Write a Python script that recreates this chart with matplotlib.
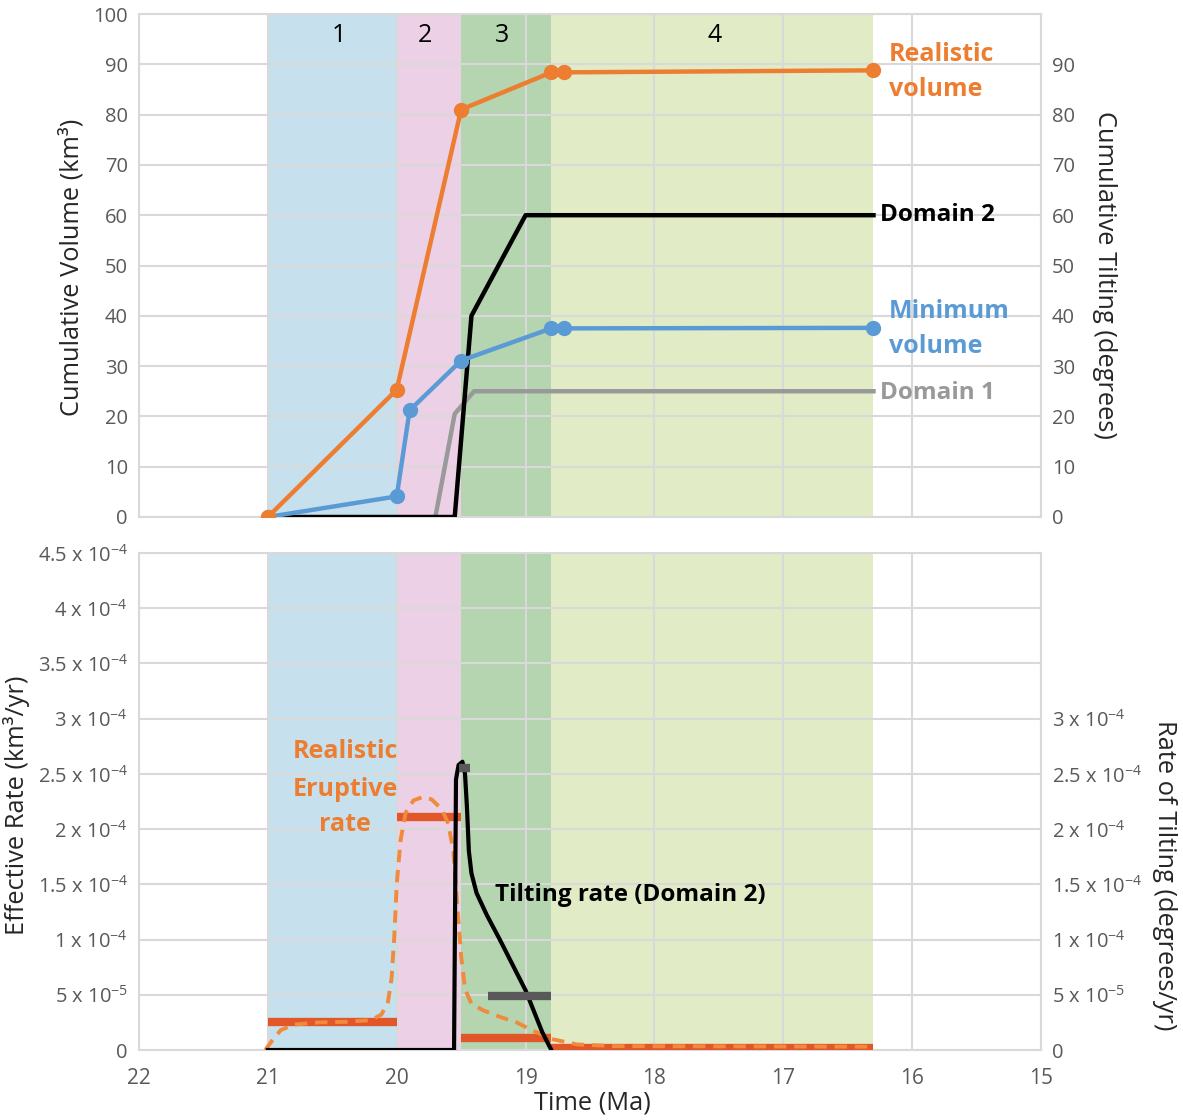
import matplotlib
matplotlib.use('Agg')
import matplotlib.pyplot as plt

plt.rcParams['font.family'] = ['Open Sans', 'DejaVu Sans']
plt.rcParams['mathtext.fontset'] = 'custom'
plt.rcParams['mathtext.rm'] = 'Open Sans'
plt.rcParams['mathtext.it'] = 'Open Sans:italic'
plt.rcParams['mathtext.bf'] = 'Open Sans:bold'

# ---------------- data ----------------
band_edges = [21.0, 20.0, 19.5, 18.8, 16.3]
band_labels = ['1', '2', '3', '4']
band_label_x = [20.45, 19.78, 19.18, 17.53]
band_colors = ['#C6E1ED', '#ECD0E5', '#B5D4B0', '#E1EBC6']

real_t = [21.0, 20.0, 19.5, 18.8, 18.7, 16.3]
real_v = [0, 25.3, 81.0, 88.4, 88.4, 88.8]
min_t = [21.0, 20.0, 19.9, 19.5, 18.8, 18.7, 16.3]
min_v = [0, 4.1, 21.2, 31.1, 37.5, 37.5, 37.6]
dom2_t = [21.0, 19.55, 19.42, 19.0, 16.3]
dom2_v = [0, 0, 40, 60, 60]
dom1_t = [19.7, 19.55, 19.4, 16.3]
dom1_v = [0, 20.5, 25, 25]

erupt_bar_start = [21.0, 20.0, 19.5, 18.8]
erupt_bar_end = [20.0, 19.5, 18.8, 16.3]
erupt_bar_rate = [2.55e-5, 2.11e-4, 1.1e-5, 2e-6]

tilt_bar_start = [19.52, 19.29]
tilt_bar_end = [19.43, 18.8]
tilt_bar_rate = [2.55e-4, 4.9e-5]

tilt_t = [21.0, 19.555, 19.54, 19.52, 19.49, 19.47, 19.455, 19.44, 19.42,
          19.38, 19.3, 19.2, 19.0, 18.87, 18.8]
tilt_r = [0, 0, 2.45e-4, 2.58e-4, 2.61e-4, 2.5e-4, 2.2e-4, 1.8e-4, 1.6e-4,
          1.42e-4, 1.22e-4, 1.0e-4, 0.54e-4, 0.16e-4, 0]

smooth_t = [21.02, 20.97, 20.9, 20.8, 20.6, 20.4, 20.2, 20.12, 20.07, 20.04,
            20.02, 20.0, 19.97, 19.93, 19.87, 19.8, 19.73, 19.65, 19.6, 19.56,
            19.53, 19.5, 19.47, 19.42, 19.33, 19.2, 19.07, 18.95, 18.8, 18.6,
            18.3, 16.3]
smooth_r = [0.0, 0.8e-5, 1.8e-5, 2.3e-5, 2.5e-5, 2.55e-5, 2.7e-5, 3.2e-5, 4.2e-5, 6.5e-5,
            1.0e-4, 1.5e-4, 1.9e-4, 2.15e-4, 2.26e-4, 2.29e-4, 2.27e-4, 2.18e-4, 2.05e-4, 1.8e-4,
            1.3e-4, 0.85e-4, 0.55e-4, 0.42e-4, 0.36e-4, 0.3e-4, 0.25e-4, 0.18e-4, 0.1e-4, 0.5e-5,
            0.35e-5, 0.3e-5]

x_ticks = [22, 21, 20, 19, 18, 17, 16, 15]
top_left_ticks = list(range(0, 101, 10))
top_right_ticks = list(range(0, 91, 10))
bot_left_ticks = [0, 5e-5, 1e-4, 1.5e-4, 2e-4, 2.5e-4, 3e-4, 3.5e-4, 4e-4, 4.5e-4]
bot_left_labels = ['0', '5 x 10$^{-5}$', '1 x 10$^{-4}$', '1.5 x 10$^{-4}$', '2 x 10$^{-4}$',
                   '2.5 x 10$^{-4}$', '3 x 10$^{-4}$', '3.5 x 10$^{-4}$', '4 x 10$^{-4}$',
                   '4.5 x 10$^{-4}$']
bot_right_ticks = bot_left_ticks[:7]
bot_right_labels = bot_left_labels[:7]

# ---------------- style ----------------
GRID = '#D9D9D9'
TICKC = '#595959'
ORANGE = '#ED7D31'
BLUE = '#5B9BD5'
GRAY1 = '#999999'
BARRED = '#E2572A'
DASHOR = '#F08A3C'
TS = 14.5
LAB = 18.3
ANN = 18

W, H = 1183, 1120
fig = plt.figure(figsize=(W / 100, H / 100), dpi=100)

def frac(l, t, r, b):
    return [l / W, 1 - b / H, (r - l) / W, (b - t) / H]

ax1 = fig.add_axes(frac(139, 14, 1041, 517))
ax2 = fig.add_axes(frac(139, 553, 1041, 1050))

def style(ax):
    ax.set_xlim(22, 15)
    ax.set_xticks(x_ticks)
    ax.grid(True, color=GRID, lw=1.5, zorder=0.5)
    ax.set_axisbelow(False)
    for s in ax.spines.values():
        s.set_color(GRID)
        s.set_linewidth(1.5)
    ax.tick_params(length=0, colors=TICKC, labelsize=TS, pad=8)
    ax.tick_params(axis='x', pad=13, labelsize=15)

for ax in (ax1, ax2):
    style(ax)
    for i in range(len(band_labels)):
        ax.axvspan(band_edges[i], band_edges[i + 1], color=band_colors[i], lw=0, zorder=0)

# ---- top ----
ax1.set_ylim(0, 100)
ax1.set_yticks(top_left_ticks)
ax1.tick_params(axis='x', labelbottom=False)
for i, lab in enumerate(band_labels):
    ax1.text(band_label_x[i], 95.7, lab, ha='center', va='center', fontsize=18, color='black')

ax1r = ax1.twinx()
ax1r.set_ylim(0, 100)
ax1r.set_yticks(top_right_ticks)
ax1r.tick_params(length=0, colors=TICKC, labelsize=TS, pad=8)
for s in ax1r.spines.values():
    s.set_visible(False)

ax1.plot(dom1_t, dom1_v, color=GRAY1, lw=3.2, zorder=3)
ax1.plot(dom2_t, dom2_v, color='black', lw=3.2, zorder=3)
ax1.plot(min_t, min_v, color=BLUE, lw=3.2, marker='o', ms=10, zorder=4)
ax1.plot(real_t, real_v, color=ORANGE, lw=3.2, marker='o', ms=10, zorder=4)

ax1.text(16.18, 92.0, 'Realistic', color=ORANGE, fontsize=ANN, fontweight='bold', va='center')
ax1.text(16.18, 85.0, 'volume', color=ORANGE, fontsize=ANN, fontweight='bold', va='center')
ax1.text(16.25, 60, 'Domain 2', color='black', fontsize=17.5, fontweight='bold', va='center')
ax1.text(16.18, 40.8, 'Minimum', color=BLUE, fontsize=ANN, fontweight='bold', va='center')
ax1.text(16.18, 33.8, 'volume', color=BLUE, fontsize=ANN, fontweight='bold', va='center')
ax1.text(16.25, 24.7, 'Domain 1', color=GRAY1, fontsize=17.5, fontweight='bold', va='center')

# ---- bottom ----
ax2.set_ylim(0, 4.5e-4)
ax2.set_yticks(bot_left_ticks)
ax2.set_yticklabels(bot_left_labels)
ax2.set_xticklabels([str(v) for v in x_ticks])

ax2r = ax2.twinx()
ax2r.set_ylim(0, 4.5e-4)
ax2r.set_yticks(bot_right_ticks)
ax2r.set_yticklabels(bot_right_labels)
ax2r.tick_params(length=0, colors=TICKC, labelsize=TS, pad=8)
for s in ax2r.spines.values():
    s.set_visible(False)

ax2.hlines(erupt_bar_rate, erupt_bar_start, erupt_bar_end, color=BARRED, lw=6, zorder=3)
ax2.plot(smooth_t, smooth_r, color=DASHOR, lw=2.8, ls=(0, (3.2, 2.0)), zorder=4)
ax2r.plot(tilt_t, tilt_r, color='black', lw=3, zorder=5)
ax2r.hlines(tilt_bar_rate, tilt_bar_start, tilt_bar_end, color='#595959', lw=6, zorder=6)

ax2.text(20.40, 2.70e-4, 'Realistic', color=ORANGE, fontsize=ANN, fontweight='bold',
         ha='center', va='center', zorder=7)
ax2.text(20.40, 2.36e-4, 'Eruptive', color=ORANGE, fontsize=ANN, fontweight='bold',
         ha='center', va='center', zorder=7)
ax2.text(20.40, 2.04e-4, 'rate', color=ORANGE, fontsize=ANN, fontweight='bold',
         ha='center', va='center', zorder=7)
ax2r.text(19.24, 1.40e-4, 'Tilting rate (Domain 2)', color='black', fontsize=17.5,
          fontweight='bold', ha='left', va='center', zorder=7)

# ---- axis titles ----
fig.text(72 / W, 1 - 267 / H, 'Cumulative Volume (km³)', rotation=90, ha='center', va='center',
         fontsize=LAB, color='#262626')
fig.text(1105 / W, 1 - 275 / H, 'Cumulative Tilting (degrees)', rotation=270, ha='center',
         va='center', fontsize=LAB, color='#262626')
fig.text(17 / W, 1 - 805 / H, 'Effective Rate (km³/yr)', rotation=90, ha='center', va='center',
         fontsize=LAB, color='#262626')
fig.text(1165 / W, 1 - 875 / H, 'Rate of Tilting (degrees/yr)', rotation=270, ha='center',
         va='center', fontsize=LAB, color='#262626')
fig.text(592 / W, 1 - 1103 / H, 'Time (Ma)', ha='center', va='center', fontsize=LAB,
         color='#262626')

fig.savefig('out.png', dpi=100)
